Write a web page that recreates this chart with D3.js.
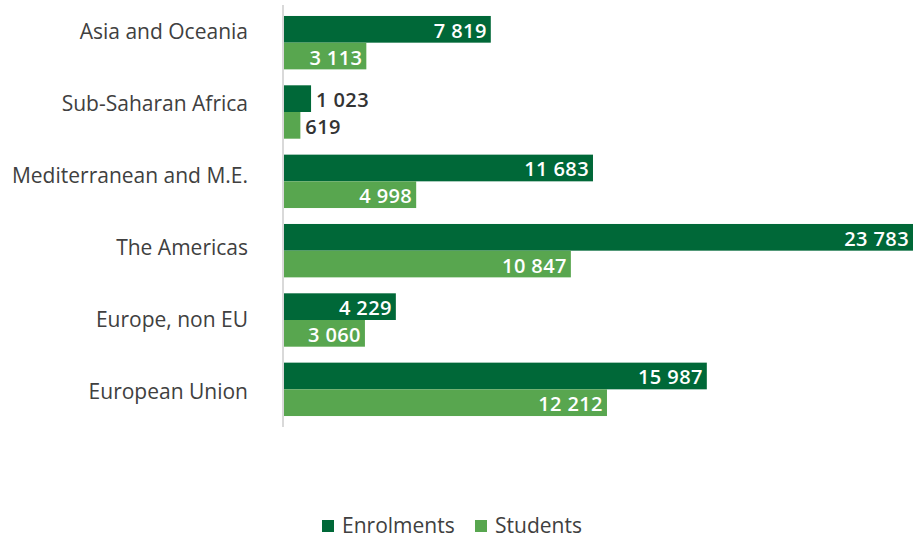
<!DOCTYPE html>
<html>
<head>
<meta charset="utf-8">
<script src="https://cdn.jsdelivr.net/npm/d3@7"></script>
<style>
  body { margin: 0; background: #fff; }
  svg text { font-family: "Open Sans", "Noto Sans", sans-serif; }
</style>
</head>
<body>
<div id="chart"></div>
<script>
// data
const regions = ['Asia and Oceania', 'Sub-Saharan Africa', 'Mediterranean and M.E.',
                 'The Americas', 'Europe, non EU', 'European Union'];
const enrolments = [7819, 1023, 11683, 23783, 4229, 15987];
const students = [3113, 619, 4998, 10847, 3060, 12212];
const seriesNames = ['Enrolments', 'Students'];
const seriesColors = ['#006838', '#58a64f'];

const width = 918, height = 538;
const margin = {left: 284, right: 5, top: 8, bottom: 114};

const fmt = d3.formatLocale({decimal: '.', thousands: ' ', grouping: [3], currency: ['', '']}).format(',d');

const rows = regions.map((r, i) => ({region: r, values: [enrolments[i], students[i]]}));

const svg = d3.select('#chart').append('svg')
    .attr('width', width)
    .attr('height', height);

const xScale = d3.scaleLinear()
    .domain([0, d3.max(enrolments)])
    .range([margin.left, width - margin.right]);

const yBand = d3.scaleBand()
    .domain(regions)
    .range([margin.top, height - margin.bottom])
    .paddingInner(0.23)
    .paddingOuter(0.115);

const ySub = d3.scaleBand()
    .domain([0, 1])
    .range([0, yBand.bandwidth()]);

// category labels sit on their own evenly spaced positions
const yLabel = d3.scalePoint()
    .domain(regions)
    .range([31, 391]);

// axis line
svg.append('line')
    .attr('x1', margin.left - 1).attr('x2', margin.left - 1)
    .attr('y1', 5).attr('y2', 427)
    .attr('stroke', '#d9d9d9')
    .attr('stroke-width', 2);

svg.append('g')
    .selectAll('text')
    .data(regions)
    .enter()
    .append('text')
    .attr('x', 248)
    .attr('y', d => yLabel(d))
    .attr('text-anchor', 'end')
    .attr('dominant-baseline', 'central')
    .style('font-size', '21px')
    .style('fill', '#404040')
    .text(d => d);

const groups = svg.append('g')
    .selectAll('g')
    .data(rows)
    .enter()
    .append('g')
    .attr('transform', d => `translate(0, ${yBand(d.region)})`);

groups.selectAll('rect')
    .data(d => d.values)
    .enter()
    .append('rect')
    .attr('x', xScale(0))
    .attr('y', (d, i) => ySub(i))
    .attr('width', d => xScale(d) - xScale(0))
    .attr('height', ySub.bandwidth())
    .attr('fill', (d, i) => seriesColors[i]);

groups.selectAll('text')
    .data(d => d.values)
    .enter()
    .append('text')
    .attr('y', (d, i) => ySub(i) + ySub.bandwidth() / 2 + 1)
    .attr('dominant-baseline', 'central')
    .style('font-size', '20px')
    .style('font-weight', '600')
    .style('letter-spacing', '0.4px')
    .text(d => fmt(d))
    .each(function (d) {
        const w = this.getComputedTextLength();
        const barW = xScale(d) - xScale(0);
        const t = d3.select(this);
        if (w + 10 < barW) {
            t.attr('x', xScale(d) - 4).attr('text-anchor', 'end').style('fill', '#fff');
        } else {
            t.attr('x', xScale(d) + 5).attr('text-anchor', 'start').style('fill', '#333');
        }
    });

// legend
const legend = svg.append('g').attr('transform', 'translate(322, 525)');
const legendX = [0, 153];
seriesNames.forEach((name, i) => {
    legend.append('rect')
        .attr('x', legendX[i])
        .attr('y', -5)
        .attr('width', 12)
        .attr('height', 12)
        .attr('fill', seriesColors[i]);
    legend.append('text')
        .attr('x', legendX[i] + 20)
        .attr('y', 0)
        .attr('dominant-baseline', 'central')
        .style('font-size', '21px')
        .style('fill', '#404040')
        .text(name);
});
</script>
</body>
</html>
